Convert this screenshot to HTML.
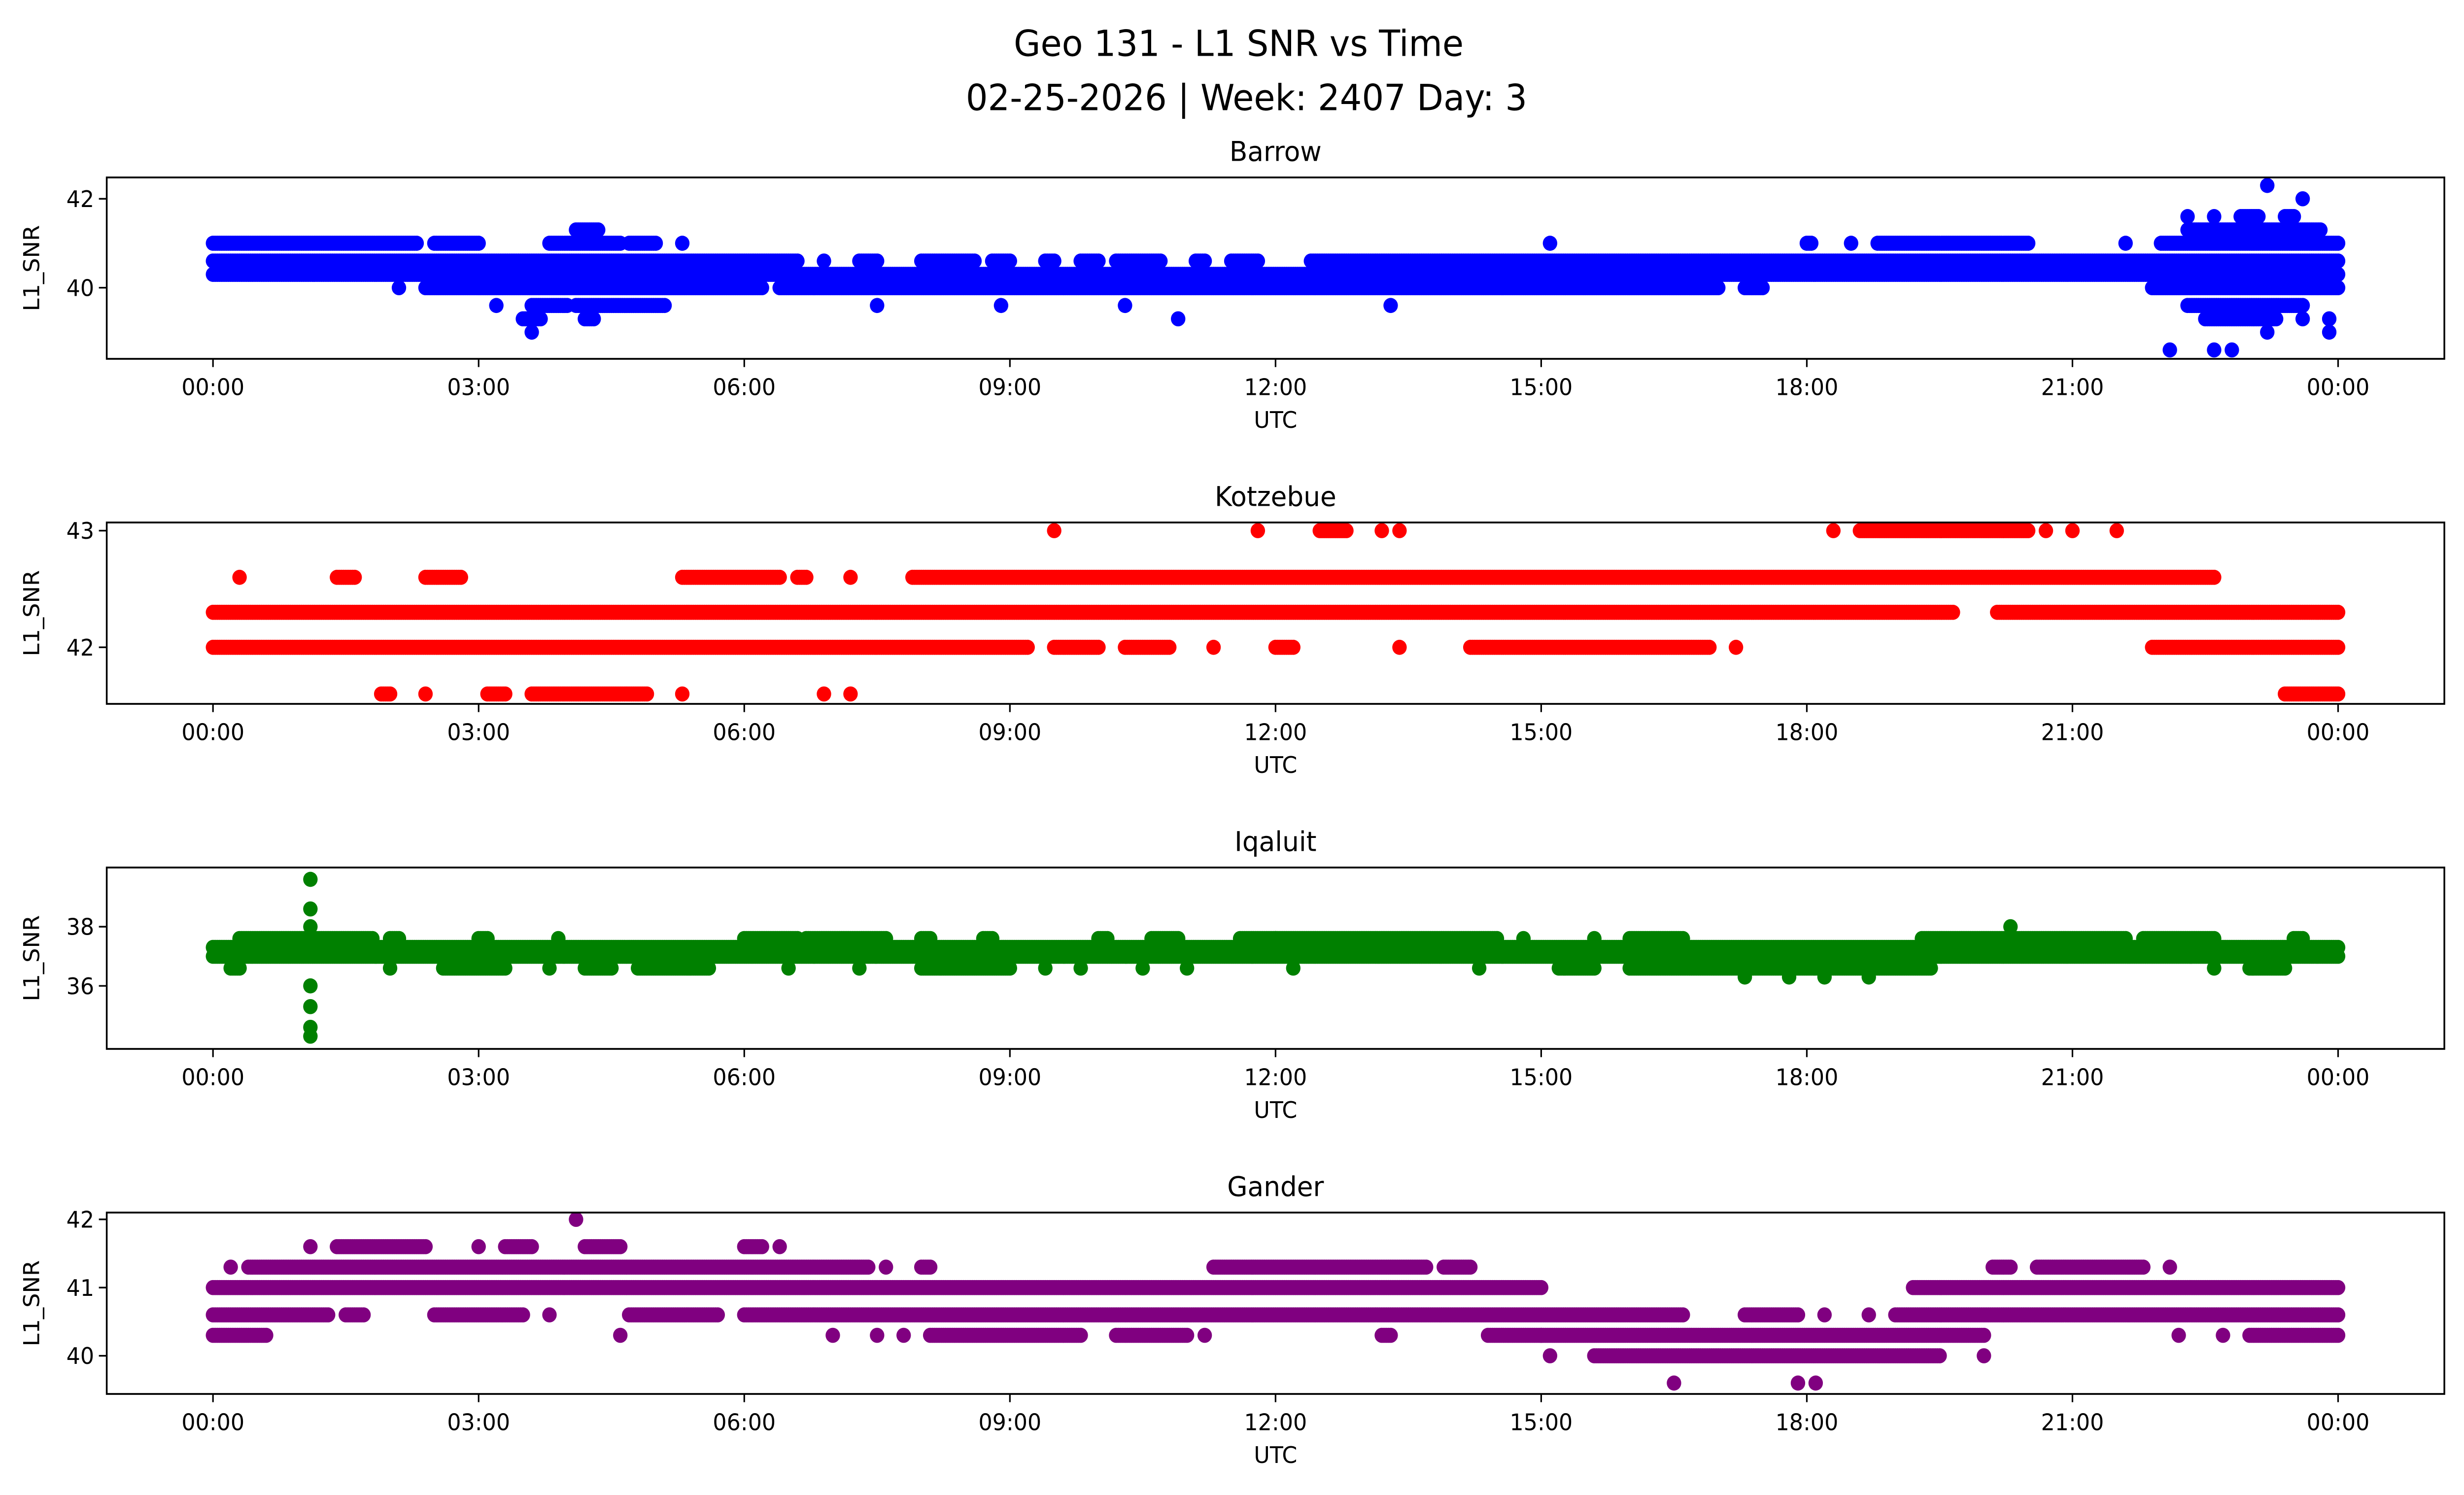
<!DOCTYPE html>
<html><head><meta charset="utf-8"><style>
html,body{margin:0;padding:0;background:#fff;overflow:hidden;width:100%;height:100%;}
svg{display:block;position:absolute;left:0;top:0;width:100vw;height:100vh;font-family:"DejaVu Sans","Liberation Sans",sans-serif;}
</style></head><body>
<svg id="fig" viewBox="0 0 1567.5 909.9" preserveAspectRatio="none" xmlns="http://www.w3.org/2000/svg">
<rect width="1567.5" height="909.9" fill="#fff"/>
<text x="788" y="34" font-size="22" text-anchor="middle">Geo 131 - L1 SNR vs Time</text>
<text x="793" y="67" font-size="22" text-anchor="middle">02-25-2026 | Week: 2407 Day: 3</text>
<g id="panels"></g>
</svg>
<script>
// x axis ticks (hours) and labels
const xTickHours = [0,3,6,9,12,15,18,21,24];
const xTickLabels = ["00:00","03:00","06:00","09:00","12:00","15:00","18:00","21:00","00:00"];
// Station names
const stations = ["Barrow","Kotzebue","Iqaluit","Gander"];
const colors = ["#0000ff","#ff0000","#008000","#800080"];
// y ticks per panel
const yTicks0 = [40,42];
const yTicks1 = [42,43];
const yTicks2 = [36,38];
const yTicks3 = [40,41,42];
// y domains per panel
const yDomain0 = [38.40,42.48];
const yDomain1 = [41.515,43.07];
const yDomain2 = [33.87,40.0];
const yDomain3 = [39.44,42.1];
// data runs: [startHour, endHour, L1_SNR]
const barrow = [
 [0,24,40.3],[0,6.6,40.6],[6.9,6.9,40.6],[7.3,7.5,40.6],[8.0,8.6,40.6],[8.8,9.0,40.6],[9.4,9.5,40.6],[9.8,10.0,40.6],[10.2,10.7,40.6],[11.1,11.2,40.6],[11.5,11.8,40.6],[12.4,24,40.6],
 [2.1,2.1,40.0],[2.4,3.0,40.0],[3.0,6.2,40.0],[6.4,17.0,40.0],[17.3,17.5,40.0],[21.9,24,40.0],
 [0,2.3,41.0],[2.5,3.0,41.0],[3.8,4.6,41.0],[4.7,5.0,41.0],[5.3,5.3,41.0],[15.1,15.1,41.0],[18.0,18.05,41.0],[18.5,18.5,41.0],[18.8,20.5,41.0],[21.6,21.6,41.0],[22.0,24,41.0],
 [3.2,3.2,39.6],[3.6,4.0,39.6],[4.1,5.1,39.6],[7.5,7.5,39.6],[8.9,8.9,39.6],[10.3,10.3,39.6],[13.3,13.3,39.6],[22.3,23.6,39.6],
 [3.5,3.7,39.3],[4.2,4.3,39.3],[10.9,10.9,39.3],[22.5,23.3,39.3],[23.6,23.6,39.3],[23.9,23.9,39.3],
 [3.6,3.6,39.0],[23.2,23.2,39.0],[23.9,23.9,39.0],
 [4.1,4.35,41.3],[22.3,23.8,41.3],
 [22.3,22.3,41.6],[22.6,22.6,41.6],[22.9,23.1,41.6],[23.4,23.5,41.6],
 [23.6,23.6,42.0],[23.2,23.2,42.3],
 [22.1,22.1,38.6],[22.6,22.6,38.6],[22.8,22.8,38.6]
];
const kotzebue = [
 [0,19.65,42.3],[20.15,24,42.3],
 [0,9.2,42.0],[9.5,10.0,42.0],[10.3,10.8,42.0],[11.3,11.3,42.0],[12.0,12.2,42.0],[13.4,13.4,42.0],[14.2,16.9,42.0],[17.2,17.2,42.0],[21.9,24,42.0],
 [0.3,0.3,42.6],[1.4,1.6,42.6],[2.4,2.8,42.6],[5.3,6.4,42.6],[6.6,6.7,42.6],[7.2,7.2,42.6],[7.9,22.6,42.6],
 [9.5,9.5,43.0],[11.8,11.8,43.0],[12.5,12.8,43.0],[13.2,13.2,43.0],[13.4,13.4,43.0],[18.3,18.3,43.0],[18.6,20.5,43.0],[20.7,20.7,43.0],[21.0,21.0,43.0],[21.5,21.5,43.0],
 [1.9,2.0,41.6],[2.4,2.4,41.6],[3.1,3.3,41.6],[3.6,4.9,41.6],[5.3,5.3,41.6],[6.9,6.9,41.6],[7.2,7.2,41.6],[23.4,24,41.6]
];
const iqaluit = [
 [0,24,37.0],[0,24,37.3],
 [0.3,1.8,37.6],[2.0,2.1,37.6],[3.0,3.1,37.6],[3.9,3.9,37.6],[6.0,6.6,37.6],[6.7,7.6,37.6],[8.0,8.1,37.6],[8.7,8.8,37.6],[10.0,10.1,37.6],[10.6,10.9,37.6],[11.6,12.0,37.6],[12.0,14.5,37.6],[14.8,14.8,37.6],[15.6,15.6,37.6],[16.0,16.6,37.6],[19.3,21.6,37.6],[21.8,22.6,37.6],[23.5,23.6,37.6],
 [0.2,0.3,36.6],[2.0,2.0,36.6],[2.6,3.3,36.6],[3.8,3.8,36.6],[4.2,4.5,36.6],[4.8,5.6,36.6],[6.5,6.5,36.6],[7.3,7.3,36.6],[8.0,9.0,36.6],[9.4,9.4,36.6],[9.8,9.8,36.6],[10.5,10.5,36.6],[11.0,11.0,36.6],[12.2,12.2,36.6],[14.3,14.3,36.6],[15.2,15.6,36.6],[16.0,19.4,36.6],[22.6,22.6,36.6],[23.0,23.4,36.6],
 [17.3,17.3,36.3],[17.8,17.8,36.3],[18.2,18.2,36.3],[18.7,18.7,36.3],
 [1.1,1.1,38.0],[1.1,1.1,38.6],[1.1,1.1,39.6],[1.1,1.1,36.0],[1.1,1.1,35.3],[1.1,1.1,34.6],[1.1,1.1,34.3],[20.3,20.3,38.0]
];
const gander = [
 [0,15.0,41.0],[19.2,24,41.0],
 [0,1.3,40.6],[1.5,1.7,40.6],[2.5,3.5,40.6],[3.8,3.8,40.6],[4.7,5.7,40.6],[6.0,16.6,40.6],[17.3,17.9,40.6],[18.2,18.2,40.6],[18.7,18.7,40.6],[19.0,24,40.6],
 [0.2,0.2,41.3],[0.4,7.4,41.3],[7.6,7.6,41.3],[8.0,8.1,41.3],[11.3,13.7,41.3],[13.9,14.2,41.3],[20.1,20.3,41.3],[20.6,21.8,41.3],[22.1,22.1,41.3],
 [0,0.6,40.3],[4.6,4.6,40.3],[7.0,7.0,40.3],[7.5,7.5,40.3],[7.8,7.8,40.3],[8.1,9.8,40.3],[10.2,11.0,40.3],[11.2,11.2,40.3],[13.2,13.3,40.3],[14.4,15.0,40.3],[15.0,20.0,40.3],[22.2,22.2,40.3],[22.7,22.7,40.3],[23.0,24,40.3],
 [15.1,15.1,40.0],[15.6,19.5,40.0],[20.0,20.0,40.0],
 [1.1,1.1,41.6],[1.4,2.4,41.6],[3.0,3.0,41.6],[3.3,3.6,41.6],[4.2,4.6,41.6],[6.0,6.2,41.6],[6.4,6.4,41.6],
 [4.1,4.1,42.0],
 [16.5,16.5,39.6],[17.9,17.9,39.6],[18.1,18.1,39.6]
];
const seriesData = [barrow,kotzebue,iqaluit,gander];
const yTicksAll = [yTicks0,yTicks1,yTicks2,yTicks3];
const yDomains = [yDomain0,yDomain1,yDomain2,yDomain3];

const NS = "http://www.w3.org/2000/svg";
const AX_L = 67.9, AX_R = 1555, AX_H = 110.4;
const panelTops = [108,318,528,738];
const X_MIN = -1.2, X_MAX = 25.2;
function xScale(h){ return AX_L + (h - X_MIN) / (X_MAX - X_MIN) * (AX_R - AX_L); }
function makeY(dom, top){ return v => top + AX_H - (v - dom[0]) / (dom[1]-dom[0]) * AX_H; }
function el(tag, attrs, parent){ const e = document.createElementNS(NS, tag); for (const k in attrs) e.setAttribute(k, attrs[k]); parent.appendChild(e); return e; }

const root = document.getElementById('panels');
stations.forEach((name, i) => {
  const top = panelTops[i];
  const yS = makeY(yDomains[i], top);
  const g = el('g', {}, root);
  
  
  const clip = el('clipPath', {id:'c'+i}, g);
  el('rect', {x:AX_L, y:top, width:AX_R-AX_L, height:AX_H}, clip);
  const pts = el('g', {'clip-path':'url(#c'+i+')', fill:colors[i]}, g);
  
  
  seriesData[i].forEach(run => {
    const [s, e, v] = run;
    const n = Math.max(1, Math.round((e - s) / 0.025) + 1);
    for (let k = 0; k < n; k++) {
      const h = n === 1 ? s : s + (e - s) * k / (n - 1);
      const c = el('circle', {cx:xScale(h).toFixed(2), cy:yS(v).toFixed(2), r:4.6}, pts);
      
      
    }
  });
  const frame = el('rect', {x:AX_L, y:top, width:AX_R-AX_L, height:AX_H, fill:'none', stroke:'#000', 'stroke-width':1.1}, g);
  
  
  xTickHours.forEach((h, j) => {
    const x = xScale(h);
    el('line', {x1:x, x2:x, y1:top+AX_H, y2:top+AX_H+5, stroke:'#000', 'stroke-width':1}, g);
    const t = el('text', {x:x, y:top+AX_H+22, 'font-size':13.9, 'text-anchor':'middle'}, g);
    t.textContent = xTickLabels[j];
    
    
  });
  yTicksAll[i].forEach(v => {
    const y = yS(v);
    el('line', {x1:AX_L-5, x2:AX_L, y1:y, y2:y, stroke:'#000', 'stroke-width':1}, g);
    const t = el('text', {x:AX_L-8, y:y+5, 'font-size':13.9, 'text-anchor':'end'}, g);
    t.textContent = String(v);
    
    
  });
  const xl = el('text', {x:(AX_L+AX_R)/2, y:top+AX_H+42, 'font-size':13.9, 'text-anchor':'middle'}, g);
  xl.textContent = 'UTC';
  
  
  const yl = el('text', {x:0, y:0, 'font-size':13.9, 'text-anchor':'middle', transform:'translate(25,'+(top+AX_H/2)+') rotate(-90)'}, g);
  yl.textContent = 'L1_SNR';
  
  
  const tt = el('text', {x:(AX_L+AX_R)/2, y:top-10, 'font-size':16.7, 'text-anchor':'middle'}, g);
  tt.textContent = name;
  
  
});
</script>
</body></html>
